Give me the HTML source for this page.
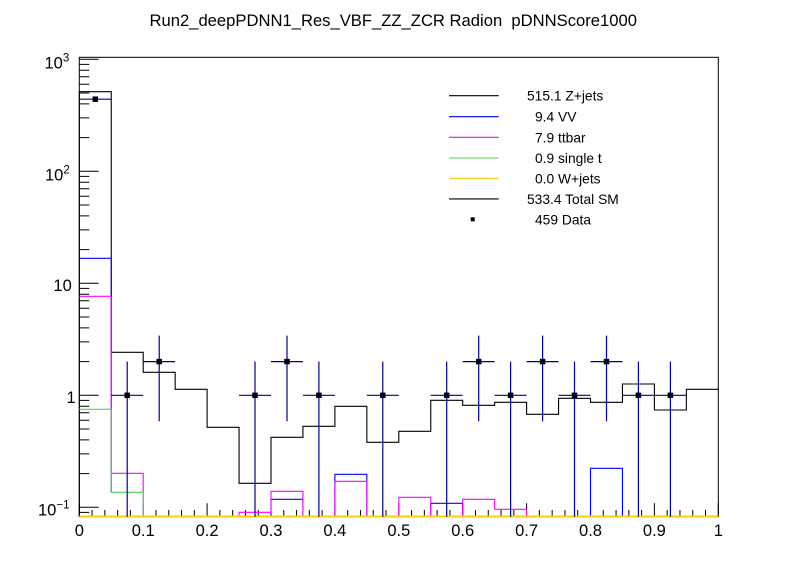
<!DOCTYPE html>
<html>
<head>
<meta charset="utf-8">
<style>
html,body{margin:0;padding:0;background:#fff;}
svg{display:block;}
text{font-family:"Liberation Sans",Arial,sans-serif;fill:#000;}
</style>
</head>
<body>
<svg width="798" height="575" viewBox="0 0 798 575" xmlns="http://www.w3.org/2000/svg">
<rect x="0" y="0" width="798" height="575" fill="#fff"/>

<!-- Title -->
<text x="149.5" y="26" font-size="16.5" textLength="487.5" lengthAdjust="spacingAndGlyphs">Run2_deepPDNN1_Res_VBF_ZZ_ZCR Radion&#160; pDNNScore1000</text>

<!-- Frame -->
<rect x="79.3" y="57.3" width="639" height="459.4" fill="none" stroke="#000" stroke-width="1"/>

<!-- Y ticks -->
<g stroke="#000" stroke-width="1">
<path d="M79.3 507.3H98.6M79.3 395.3H98.6M79.3 283.3H98.6M79.3 171.3H98.6M79.3 59.3H98.6"/>
<path d="M79.3 512.4H89.3
M79.3 473.6H89.3M79.3 453.9H89.3M79.3 439.9H89.3M79.3 429.0H89.3M79.3 420.2H89.3M79.3 412.7H89.3M79.3 406.2H89.3M79.3 400.4H89.3
M79.3 361.6H89.3M79.3 341.9H89.3M79.3 327.9H89.3M79.3 317.0H89.3M79.3 308.2H89.3M79.3 300.7H89.3M79.3 294.2H89.3M79.3 288.4H89.3
M79.3 249.6H89.3M79.3 229.9H89.3M79.3 215.9H89.3M79.3 205.0H89.3M79.3 196.2H89.3M79.3 188.7H89.3M79.3 182.2H89.3M79.3 176.4H89.3
M79.3 137.6H89.3M79.3 117.9H89.3M79.3 103.9H89.3M79.3 93.0H89.3M79.3 84.2H89.3M79.3 76.7H89.3M79.3 70.2H89.3M79.3 64.4H89.3"/>
</g>

<!-- X ticks -->
<g stroke="#000" stroke-width="1">
<path d="M79.3 516.7V503.3M143.2 516.7V503.3M207.1 516.7V503.3M271 516.7V503.3M334.9 516.7V503.3M398.8 516.7V503.3M462.7 516.7V503.3M526.6 516.7V503.3M590.5 516.7V503.3M654.4 516.7V503.3M718.3 516.7V503.3"/>
<path d="M92.08 516.7V510M104.86 516.7V510M117.64 516.7V510M130.42 516.7V510
M155.98 516.7V510M168.76 516.7V510M181.54 516.7V510M194.32 516.7V510
M219.88 516.7V510M232.66 516.7V510M245.44 516.7V510M258.22 516.7V510
M283.78 516.7V510M296.56 516.7V510M309.34 516.7V510M322.12 516.7V510
M347.68 516.7V510M360.46 516.7V510M373.24 516.7V510M386.02 516.7V510
M411.58 516.7V510M424.36 516.7V510M437.14 516.7V510M449.92 516.7V510
M475.48 516.7V510M488.26 516.7V510M501.04 516.7V510M513.82 516.7V510
M539.38 516.7V510M552.16 516.7V510M564.94 516.7V510M577.72 516.7V510
M603.28 516.7V510M616.06 516.7V510M628.84 516.7V510M641.62 516.7V510
M667.18 516.7V510M679.96 516.7V510M692.74 516.7V510M705.52 516.7V510"/>
</g>

<!-- X labels -->
<g font-size="16.5" text-anchor="middle">
<text x="79.3" y="536">0</text>
<text x="143.2" y="536">0.1</text>
<text x="207.1" y="536">0.2</text>
<text x="271" y="536">0.3</text>
<text x="334.9" y="536">0.4</text>
<text x="398.8" y="536">0.5</text>
<text x="462.7" y="536">0.6</text>
<text x="526.6" y="536">0.7</text>
<text x="590.5" y="536">0.8</text>
<text x="654.4" y="536">0.9</text>
<text x="718.3" y="536">1</text>
</g>

<!-- Y labels -->
<g font-size="16.5">
<text x="44.5" y="68.7">10<tspan dy="-7.4" font-size="11.5">3</tspan></text>
<text x="45" y="180.7">10<tspan dy="-7.4" font-size="11.5">2</tspan></text>
<text x="53.4" y="290.8">10</text>
<text x="66.5" y="403">1</text>
<text x="38" y="515.7">10<tspan dy="-7.4" font-size="11.5">−1</tspan></text>
</g>

<!-- Histograms -->
<g fill="none" stroke-width="1.1">
<!-- Z+jets / Total (black) -->
<path stroke="#000" d="M79.3 516.7V91.7H111.25V352.3H143.2V372.3H175.15V389.3H207.1V427.3H239.05V483.3H271V437.3H302.95V426.3H334.9V406.3H366.85V442.3H398.8V431.3H430.75V400.3H462.7V405.3H494.65V402.3H526.6V414.3H558.55V398.3H590.5V402.3H622.45V384H654.4V410H686.35V389.3H718.3"/>
<!-- VV (blue) -->
<path stroke="#0000ff" d="M79.3 258.3H111.25V492.3
M271 516.7V499.3H302.95V516.7
M334.9 516.7V474.3H366.85V516.7
M430.75 516.7V503.3H462.7V516.7
M590.5 516.7V468.3H622.45V516.7"/>
<!-- ttbar (magenta) -->
<path stroke="#ff00ff" d="M79.3 296.3H111.25V473.3H143.2V516.7
M239.05 516.7V512.3H271V491.3H302.95V516.7
M334.9 516.7V481.3H366.85V516.7
M398.8 516.7V497.3H430.75V516.7
M462.7 516.7V499.3H494.65V509.3H526.6V516.7"/>
<!-- single t (green) -->
<path stroke="#55d055" d="M79.3 409.3H111.25V492.3H143.2V516.7"/>
<!-- W+jets (yellow) -->
<path stroke="#ffcc00" stroke-width="2" d="M79.3 516.5H718.3"/>
</g>

<!-- Data error bars -->
<g stroke="#000099" stroke-width="1.2" fill="none">
<path d="M79.3 99.2H111.25M95.3 96.9V101.6
M111.25 395.3H143.2M127.2 361.6V516.7
M143.2 361.6H175.15M159.2 335.6V421.3
M239.05 395.3H271M255 361.6V516.7
M271 361.6H302.95M287 335.6V421.3
M302.95 395.3H334.9M318.9 361.6V516.7
M366.85 395.3H398.8M382.8 361.6V516.7
M430.75 395.3H462.7M446.7 361.6V516.7
M462.7 361.6H494.65M478.7 335.6V421.3
M494.65 395.3H526.6M510.6 361.6V516.7
M526.6 361.6H558.55M542.6 335.6V421.3
M558.55 395.3H590.5M574.5 361.6V516.7
M590.5 361.6H622.45M606.5 335.6V421.3
M622.45 395.3H654.4M638.4 361.6V516.7
M654.4 395.3H686.35M670.4 361.6V516.7"/>
</g>
<!-- Data markers -->
<g fill="#000">
<rect x="92.55" y="96.45" width="5.5" height="5.5"/>
<rect x="124.45" y="392.55" width="5.5" height="5.5"/>
<rect x="156.45" y="358.85" width="5.5" height="5.5"/>
<rect x="252.25" y="392.55" width="5.5" height="5.5"/>
<rect x="284.25" y="358.85" width="5.5" height="5.5"/>
<rect x="316.15" y="392.55" width="5.5" height="5.5"/>
<rect x="380.05" y="392.55" width="5.5" height="5.5"/>
<rect x="443.95" y="392.55" width="5.5" height="5.5"/>
<rect x="475.95" y="358.85" width="5.5" height="5.5"/>
<rect x="507.85" y="392.55" width="5.5" height="5.5"/>
<rect x="539.85" y="358.85" width="5.5" height="5.5"/>
<rect x="571.75" y="392.55" width="5.5" height="5.5"/>
<rect x="603.75" y="358.85" width="5.5" height="5.5"/>
<rect x="635.65" y="392.55" width="5.5" height="5.5"/>
<rect x="667.65" y="392.55" width="5.5" height="5.5"/>
</g>

<!-- Legend -->
<g stroke-width="1.1">
<line x1="449" y1="95.7" x2="498.7" y2="95.7" stroke="#000"/>
<line x1="449" y1="116.7" x2="498.7" y2="116.7" stroke="#0000ff"/>
<line x1="449" y1="137.3" x2="498.7" y2="137.3" stroke="#ff00ff"/>
<line x1="449" y1="158" x2="498.7" y2="158" stroke="#55d055"/>
<line x1="449" y1="178.3" x2="498.7" y2="178.3" stroke="#ffcc00"/>
<line x1="449" y1="198.9" x2="498.7" y2="198.9" stroke="#000"/>
</g>
<rect x="470.7" y="217.3" width="4" height="4" fill="#000"/>
<g font-size="13.8">
<text x="527" y="100.7">515.1 Z+jets</text>
<text x="535" y="121.7">9.4 VV</text>
<text x="535" y="142.3">7.9 ttbar</text>
<text x="535" y="163">0.9 single t</text>
<text x="535" y="183.3">0.0 W+jets</text>
<text x="527" y="203.9">533.4 Total SM</text>
<text x="535" y="224.3">459 Data</text>
</g>
</svg>
</body>
</html>
